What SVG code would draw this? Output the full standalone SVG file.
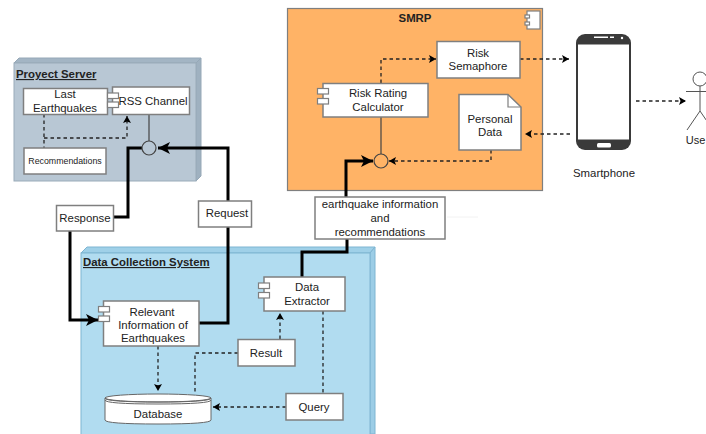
<svg xmlns="http://www.w3.org/2000/svg" width="706" height="434" viewBox="0 0 706 434">
<style>
text{font-family:"Liberation Sans",Arial,sans-serif;font-size:11.4px;fill:#222;text-anchor:middle}
.box{fill:#fff;stroke:#7f7f7f;stroke-width:1.5}
.port{fill:#fff;stroke:#7f7f7f;stroke-width:1.2}
.title{font-weight:bold;text-decoration:underline;text-anchor:start}
.thick{fill:none;stroke:#000;stroke-width:3}
.dash{fill:none;stroke:#222;stroke-width:1.3;stroke-dasharray:3.5 3}
.solid{fill:none;stroke:#444;stroke-width:1.2}
</style>
<defs>
<marker id="a" markerUnits="userSpaceOnUse" markerWidth="10" markerHeight="10" refX="7" refY="4" orient="auto"><path d="M0 0L7 4L0 8L1.5 4Z" fill="#000"/></marker>
<marker id="b" markerUnits="userSpaceOnUse" markerWidth="14" markerHeight="14" refX="12" refY="6" orient="auto"><path d="M0 0L12 6L0 12L3 6Z" fill="#000"/></marker>
</defs>
<rect width="706" height="434" fill="#fff"/>

<g id="proyect-server">
<path d="M14 63L19 58H201L196 63Z" fill="#a3b5c4" stroke="#96a8b7"/>
<path d="M196 63L201 58V176L196 181Z" fill="#9fb1c0" stroke="#96a8b7"/>
<rect x="14" y="63" width="182" height="118" fill="#b8c7d4" stroke="#9aabb9"/>
<text class="title" x="16" y="78">Proyect Server</text>
</g>
<g id="smrp">
<rect x="287.500" y="8.500" width="255" height="182" fill="#ffb366" stroke="#7f7f7f" stroke-width="1.2"/>
<text x="415" y="22" style="font-weight:bold">SMRP</text>
<rect x="527" y="11" width="13" height="18" class="port"/>
<rect x="525" y="15" width="4.500" height="3" class="port"/>
<rect x="525" y="22" width="4.500" height="3" class="port"/>
</g>
<g id="data-collection-system">
<path d="M81 253L87 247H375L370 253Z" fill="#9fd0e8" stroke="#7fb5d2"/>
<path d="M370 253L375 247V434H370Z" fill="#9ccde6" stroke="#7fb5d2"/>
<rect x="81" y="253" width="289" height="190" fill="#b1dcf0" stroke="#7fb5d2"/>
<text class="title" x="83" y="266">Data Collection System</text>
</g>

<g id="connectors">
<path class="thick" d="M113 217H128V148H142"/>
<path class="thick" d="M228 201V148H158" marker-end="url(#b)"/>
<path class="thick" d="M70 231V320H98" marker-end="url(#b)"/>
<path class="thick" d="M199 323H228V227"/>
<path class="thick" d="M302 277V252H347V239"/>
<path class="thick" d="M346 197V161H373" marker-end="url(#b)"/>
<path class="solid" d="M149 114V141"/>
<path class="solid" d="M381 117V154"/>
<path class="dash" d="M44 114V148"/>
<path class="dash" d="M44 138H127V116" marker-end="url(#a)"/>
<path class="dash" d="M381 83V59H436" marker-end="url(#a)"/>
<path class="dash" d="M520 59H569" marker-end="url(#a)"/>
<path class="dash" d="M570 134H525" marker-end="url(#a)"/>
<path class="dash" d="M491 150V161H389" marker-end="url(#a)"/>
<path class="dash" d="M636 101H686" marker-end="url(#a)"/>
<path class="dash" d="M158 346V391" marker-end="url(#a)"/>
<path class="dash" d="M280 339V313" marker-end="url(#a)"/>
<path class="dash" d="M238 353H195V394"/>
<path class="dash" d="M323 311V393"/>
<path class="dash" d="M286 407H213" marker-end="url(#a)"/>
<path d="M447 217H478" stroke="#f2f2f2" fill="none"/>
</g>

<g id="last-earthquakes">
<rect class="box" x="23.500" y="88.500" width="84" height="26"/>
<text x="65" y="98">Last</text>
<text x="65" y="112">Earthquakes</text>
</g>
<g id="rss-channel">
<rect class="box" x="112.500" y="87" width="77" height="27.500"/>
<rect class="port" x="107.500" y="93" width="11" height="5.500"/>
<rect class="port" x="107.500" y="102" width="11" height="5.500"/>
<text x="153" y="105">RSS Channel</text>
</g>
<g id="recommendations">
<rect class="box" x="24" y="148" width="82" height="26"/>
<text x="65" y="164" style="font-size:8.800px">Recommendations</text>
</g>
<g id="server-interface"><circle cx="149" cy="148" r="7" fill="#b8c7d4" stroke="#444" stroke-width="1.2"/></g>
<g id="response">
<rect class="box" x="56.500" y="205.500" width="57" height="25.500"/>
<text x="85" y="222">Response</text>
</g>
<g id="request">
<rect class="box" x="198.500" y="201" width="53" height="26"/>
<text x="227" y="217">Request</text>
</g>

<g id="risk-semaphore">
<rect class="box" x="437" y="41.500" width="83" height="36.500"/>
<text x="478" y="57">Risk</text>
<text x="478" y="70">Semaphore</text>
</g>
<g id="risk-rating-calculator">
<rect class="box" x="323" y="83.500" width="105" height="33.500"/>
<rect class="port" x="317.500" y="88.500" width="11" height="5.500"/>
<rect class="port" x="317.500" y="98.500" width="11" height="5.500"/>
<text x="378" y="97">Risk Rating</text>
<text x="378" y="111">Calculator</text>
</g>
<g id="personal-data">
<path class="box" d="M459 94.500H508L521 107V150H459Z"/>
<path d="M508 94.500V107H521" fill="none" stroke="#7f7f7f" stroke-width="1.2"/>
<text x="490" y="123">Personal</text>
<text x="490" y="136">Data</text>
</g>
<g id="smrp-interface"><circle cx="381" cy="161" r="7" fill="#ffb366" stroke="#444" stroke-width="1.2"/></g>
<g id="earthquake-information">
<rect class="box" x="315" y="197" width="130" height="42"/>
<text x="380" y="208">earthquake information</text>
<text x="380" y="222">and</text>
<text x="380" y="236">recommendations</text>
</g>

<g id="smartphone">
<rect x="576" y="34" width="55" height="116" rx="9" fill="#3a3a3a"/>
<rect x="578" y="44.500" width="51" height="95" fill="#fff"/>
<rect x="597" y="143" width="14" height="4.500" rx="1.500" fill="#fff"/>
<rect x="594" y="36.500" width="14" height="1.500" fill="#fff"/>
<rect x="610" y="36.500" width="4" height="1.500" fill="#fff"/>
<circle cx="622" cy="38" r="1.200" fill="#fff"/>
<text x="604" y="177">Smartphone</text>
</g>
<g id="user">
<circle cx="700" cy="79" r="7" fill="#fff" stroke="#555"/>
<path d="M700 86V111M686 91.500H714M700 111L687 130M700 111L713 130" fill="none" stroke="#555"/>
<text x="695.500" y="144" style="font-size:11px">Use</text>
</g>

<g id="relevant-information">
<rect class="box" x="103.500" y="301" width="95.500" height="45"/>
<rect class="port" x="98.500" y="306.500" width="11" height="5.500"/>
<rect class="port" x="98.500" y="316" width="11" height="5.500"/>
<text x="152" y="316">Relevant</text>
<text x="153" y="329">Information of</text>
<text x="153" y="342">Earthquakes</text>
</g>
<g id="data-extractor">
<rect class="box" x="264" y="277" width="81" height="34"/>
<rect class="port" x="258.500" y="283" width="11" height="5.500"/>
<rect class="port" x="258.500" y="292.500" width="11" height="5.500"/>
<text x="307" y="291">Data</text>
<text x="307" y="305">Extractor</text>
</g>
<g id="result">
<rect class="box" x="238" y="339.500" width="57" height="26.500"/>
<text x="266" y="357">Result</text>
</g>
<g id="query">
<rect class="box" x="286" y="393.500" width="57" height="26.500"/>
<text x="314" y="411">Query</text>
</g>
<g id="database">
<path d="M105 398V420Q105 424 158 424Q211 424 211 420V398Z" fill="#fff" stroke="#666"/>
<ellipse cx="158" cy="398" rx="53" ry="4" fill="#fff" stroke="#666"/>
<path d="M105 398Q105 402 158 402Q211 402 211 398M105 400Q105 404 158 404Q211 404 211 400" fill="none" stroke="#666"/>
<text x="158" y="418">Database</text>
</g>
</svg>
